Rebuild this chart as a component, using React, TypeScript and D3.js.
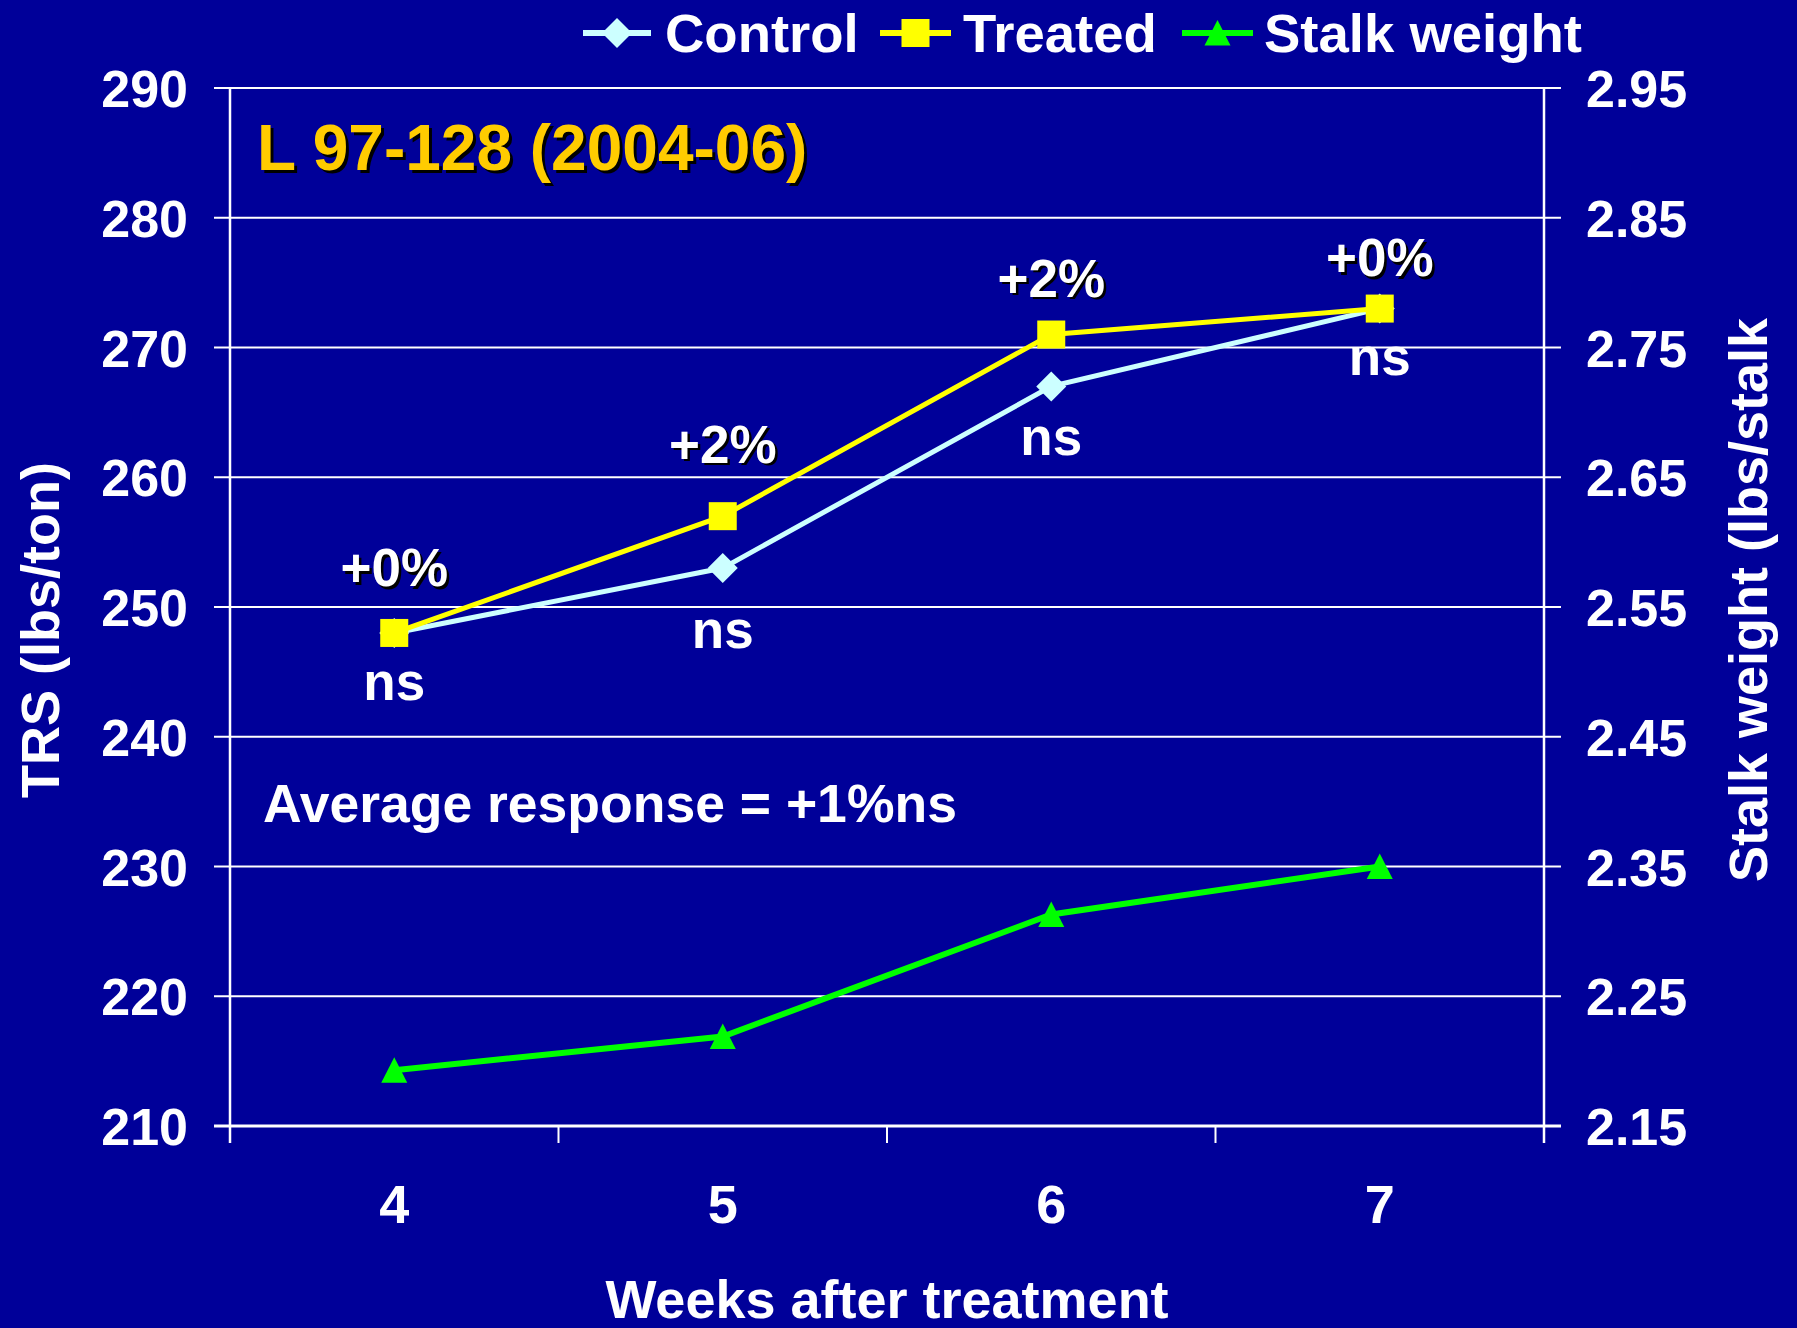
import React from "react";
import * as d3 from "d3";

const weeks = ["4", "5", "6", "7"];
const controlTRS = [248, 253, 267, 273];
const treatedTRS = [248, 257, 271, 273];
const stalkWeight = [2.193, 2.219, 2.313, 2.35];
const responseLabels = ["+0%", "+2%", "+2%", "+0%"];
const responseLabelAt = [251.6, 261.1, 273.9, 275.5];
const sigLabels = ["ns", "ns", "ns", "ns"];
const sigLabelAt = [242.8, 246.85, 261.7, 267.9];
const leftTicks = [210, 220, 230, 240, 250, 260, 270, 280, 290];
const rightTicks = [2.15, 2.25, 2.35, 2.45, 2.55, 2.65, 2.75, 2.85, 2.95];

const BG = "#000099";
const C_CONTROL = "#CCFFFF";
const C_TREATED = "#FFFF00";
const C_STALK = "#00FF00";
const FONT = "'Liberation Sans', Arial, Helvetica, sans-serif";

const W = 1797;
const H = 1328;
const L = 230;
const R = 1544;
const T = 88;
const B = 1126;

function Diamond({ x, y, fill }: { x: number; y: number; fill: string }) {
  const h = 15;
  return <path d={`M${x},${y - h}L${x + h},${y}L${x},${y + h}L${x - h},${y}Z`} fill={fill} />;
}
function Square({ x, y, fill }: { x: number; y: number; fill: string }) {
  const h = 14;
  return <rect x={x - h} y={y - h} width={2 * h} height={2 * h} fill={fill} />;
}
function Triangle({ x, y, fill }: { x: number; y: number; fill: string }) {
  return <path d={`M${x},${y - 13}L${x + 13},${y + 12.5}L${x - 13},${y + 12.5}Z`} fill={fill} />;
}

function ShadowText(props: any) {
  const { x, y, children, fill, size, anchor, off = 3 } = props;
  return (
    <g fontFamily={FONT} fontWeight="bold" fontSize={size} textAnchor={anchor || "start"}>
      <text x={x + off} y={y + off} fill="#000000">{children}</text>
      <text x={x} y={y} fill={fill}>{children}</text>
    </g>
  );
}

export default function App() {
  const x = d3.scaleBand<string>().domain(weeks).range([L, R]);
  const cx = (w: string) => (x(w) as number) + x.bandwidth() / 2;
  const yL = d3.scaleLinear().domain([210, 290]).range([B, T]);
  const yR = d3.scaleLinear().domain([2.15, 2.95]).range([B, T]);

  const lineL = d3
    .line<number>()
    .x((_, i) => cx(weeks[i]))
    .y((d) => yL(d));
  const lineR = d3
    .line<number>()
    .x((_, i) => cx(weeks[i]))
    .y((d) => yR(d));

  const boundaries = d3.range(weeks.length + 1).map((i) => L + i * x.bandwidth());

  return (
    <svg
      width={W}
      height={H}
      style={{ position: "absolute", left: 0, top: 0, display: "block" }}
    >
      <rect x={0} y={0} width={W} height={H} fill={BG} />

      {leftTicks.map((t) => (
        <line key={"g" + t} x1={214} x2={R} y1={yL(t)} y2={yL(t)} stroke="#FFFFFF" strokeWidth={2} />
      ))}
      {rightTicks.map((t) => (
        <line key={"r" + t} x1={R} x2={R + 17} y1={yR(t)} y2={yR(t)} stroke="#FFFFFF" strokeWidth={2} />
      ))}
      <line x1={L} x2={L} y1={T} y2={B + 17} stroke="#FFFFFF" strokeWidth={2.5} />
      <line x1={R} x2={R} y1={T} y2={B + 17} stroke="#FFFFFF" strokeWidth={2.5} />
      <line x1={214} x2={R + 17} y1={B} y2={B} stroke="#FFFFFF" strokeWidth={3} />
      {boundaries.map((b, i) => (
        <line key={"xt" + i} x1={b} x2={b} y1={B} y2={B + 17} stroke="#FFFFFF" strokeWidth={2} />
      ))}

      <g fontFamily={FONT} fontWeight="bold" fontSize={52} fill="#FFFFFF">
        {leftTicks.map((t) => (
          <text key={"lt" + t} x={188} y={yL(t) + 19} textAnchor="end">{t}</text>
        ))}
        {rightTicks.map((t) => (
          <text key={"rt" + t} x={1586} y={yR(t) + 19} textAnchor="start">{t.toFixed(2)}</text>
        ))}
        {weeks.map((w) => (
          <text key={"xt" + w} x={cx(w)} y={1223} textAnchor="middle" fontSize={54}>{w}</text>
        ))}
      </g>

      <g fontFamily={FONT} fontWeight="bold" fontSize={54} fill="#FFFFFF" textAnchor="middle">
        <text transform="translate(59,630) rotate(-90)">TRS (lbs/ton)</text>
        <text transform="translate(1767,600) rotate(-90)">Stalk weight (lbs/stalk</text>
        <text x={887} y={1318}>Weeks after treatment</text>
      </g>

      <path d={lineR(stalkWeight) || ""} fill="none" stroke={C_STALK} strokeWidth={6} />
      <path d={lineL(controlTRS) || ""} fill="none" stroke={C_CONTROL} strokeWidth={5} />
      {controlTRS.map((v, i) => (
        <Diamond key={"c" + i} x={cx(weeks[i])} y={yL(v)} fill={C_CONTROL} />
      ))}
      <path d={lineL(treatedTRS) || ""} fill="none" stroke={C_TREATED} strokeWidth={5} />
      {treatedTRS.map((v, i) => (
        <Square key={"t" + i} x={cx(weeks[i])} y={yL(v)} fill={C_TREATED} />
      ))}
      {stalkWeight.map((v, i) => (
        <Triangle key={"s" + i} x={cx(weeks[i])} y={yR(v)} fill={C_STALK} />
      ))}

      {responseLabels.map((s, i) => (
        <ShadowText key={"pl" + i} x={cx(weeks[i])} y={yL(responseLabelAt[i])} fill="#FFFFFF" size={53} anchor="middle" off={2.5}>
          {s}
        </ShadowText>
      ))}
      <g fontFamily={FONT} fontWeight="bold" fontSize={53} fill="#FFFFFF">
        {sigLabels.map((s, i) => (
          <text key={"ns" + i} x={cx(weeks[i])} y={yL(sigLabelAt[i])} textAnchor="middle">{s}</text>
        ))}
        <text x={263} y={822} fontSize={53.5}>Average response = +1%ns</text>
      </g>

      <ShadowText x={257} y={170} fill="#FFCC00" size={64} off={3}>
        L 97-128 (2004-06)
      </ShadowText>

      <g>
        <line x1={583} x2={651} y1={33} y2={33} stroke={C_CONTROL} strokeWidth={6} />
        <Diamond x={617} y={33} fill={C_CONTROL} />
        <line x1={880} x2={951} y1={33} y2={33} stroke={C_TREATED} strokeWidth={6} />
        <Square x={915.5} y={33} fill={C_TREATED} />
        <line x1={1182} x2={1253} y1={33} y2={33} stroke={C_STALK} strokeWidth={6} />
        <Triangle x={1217.5} y={33} fill={C_STALK} />
        <g fontFamily={FONT} fontWeight="bold" fontSize={54.5} fill="#FFFFFF">
          <text x={665} y={52}>Control</text>
          <text x={963} y={52}>Treated</text>
          <text x={1264} y={52}>Stalk weight</text>
        </g>
      </g>
    </svg>
  );
}
